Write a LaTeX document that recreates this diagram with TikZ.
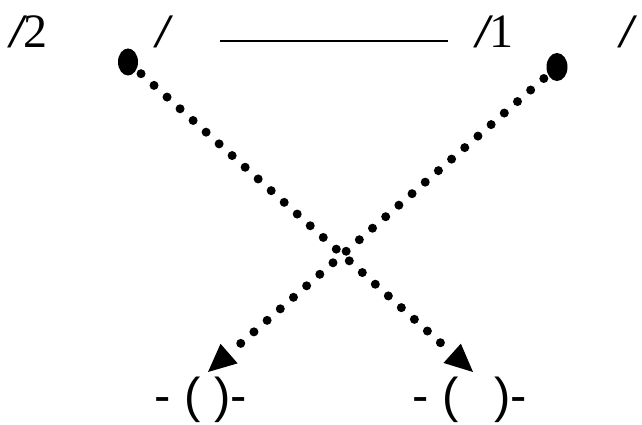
\documentclass[tikz,border=0pt]{standalone}
\usepackage{fontspec}
\setmainfont{Liberation Serif}
\newfontfamily\labsans{Liberation Sans}
\usetikzlibrary{arrows.meta,shapes.geometric}
\newcommand{\slashmark}{{\bfseries\itshape /}}
\tikzset{
  toptext/.style={inner sep=0pt,anchor=base west,font=\fontsize{48}{54}\selectfont},
  bottext/.style={inner sep=0pt,anchor=base west,font=\labsans\fontsize{49}{56}\selectfont},
  bigdot/.style={ellipse,fill=black,inner sep=0pt,minimum width=20pt,minimum height=27pt},
  dotline/.style={line width=9pt,line cap=round,dash pattern=on 0pt off 17.5pt,
    -{Triangle[length=28pt,width=26pt,line width=0pt]}},
}
\begin{document}
\begin{tikzpicture}[x=1pt,y=-1pt]
\useasboundingbox (0,0) rectangle (642,425);
\node[toptext] (t1) at (10,48) {\slashmark2};
\node[toptext] (t2) at (156,48) {\slashmark};
\node[toptext] (t3) at (476,48) {\slashmark1};
\node[toptext] (t4) at (620,48) {\slashmark};
\coordinate (la) at (220,41);
\coordinate (lb) at (448,41);
\draw[line width=2pt] (la) -- (lb);
\node[bigdot] (d1) at (128,62) {};
\node[bigdot,minimum width=21pt,minimum height=28pt] (d2) at (557,67) {};
\node[bottext] (b1) at (154,412) {- ( )-};
\node[bottext] (b2) at (412,412) {- (\hspace{36pt})-};
\coordinate (tipL) at (208,372);
\coordinate (tipR) at (473,372);
\draw[dotline] (d1.center) -- (tipR);
\draw[dotline] (d2.center) -- (tipL);
\end{tikzpicture}
\end{document}
